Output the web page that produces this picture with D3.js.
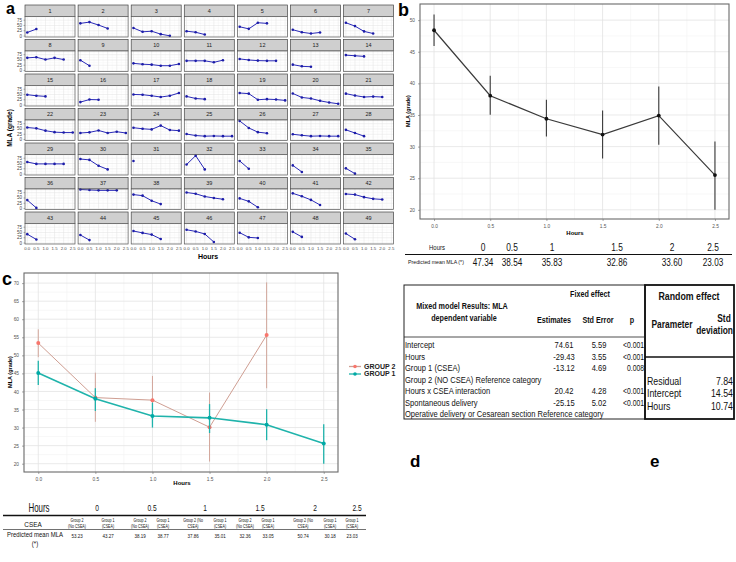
<!DOCTYPE html>
<html>
<head>
<meta charset="utf-8">
<script src="https://cdn.jsdelivr.net/npm/d3@7"></script>
<style>
  body { margin: 0; background: #fff; }
  svg { display: block; }
  text { font-family: "Liberation Sans", Arial, sans-serif; }
</style>
</head>
<body>
<div id="chart"></div>
<script>
// ---------- data ----------
const hours = [0, 0.5, 1, 1.5, 2, 2.5];

// panel a: MLA per subject (1..49), one value per half hour from 0
const subjectMla = [
  [17, 33], [60, 66, 52, 36], [38, 20, 23, 9, 1], [23, 18, 7], [44, 34, 63, 60], [30, 18, 12, 17], [63, 47, 22, 12],
  [60, 63, 52, 60, 52], [49, 23], [34, 30, 28, 23, 23, 31], [46, 46, 46, 39, 49], [55, 50, 47, 46, 46], [28, 20, 18], [73, 70, 67],
  [49, 44, 41], [14, 26, 25], [50, 49, 44, 38, 44, 57], [41, 31, 28], [57, 54, 25, 28, 26, 22], [55, 36, 31, 20, 12, 6], [54, 45, 38, 40, 38],
  [57, 53, 42, 35, 33, 33], [31, 34, 43, 31, 37, 31], [56, 51, 48, 66, 45, 42], [26, 19, 16, 17, 16, 16], [88, 55, 35, 30], [25, 20, 16, 17, 16, 16], [46, 31, 16],
  [57, 48, 48, 48, 48], [71, 67, 39, 22], [62], [45, 87, 22], [62, 25], [41, 10], [27, 2],
  [40, 3], [90, 88, 86, 86, 86], [66, 61, 37, 21], [76, 70, 57, 50, 44], [48, 34, 6], [72, 58, 41, 17], [69, 66, 54, 46, 43],
  [42, 17], [38, 14], [57, 48, 40, 19], [63, 55, 43, 5], [49, 27, 24], [53, 29], [45, 18]
];
const aYTicks = [0, 25, 50, 75];

// panel b: overall mean with error bars
const bMean = [48.4, 38.05, 34.4, 31.9, 34.9, 25.5];
const bLow  = [45.9, 35.05, 31.6, 28.1, 30.3, 20.0];
const bHigh = [50.9, 41.2, 37.4, 35.7, 39.5, 30.8];
const bYTicks = [20, 25, 30, 35, 40, 45, 50];
const bTableHours = ['0', '0.5', '1', '1.5', '2', '2.5'];
const bTablePred  = ['47.34', '38.54', '35.83', '32.86', '33.60', '23.03'];

// panel c: by group
const groupNames = ['GROUP 2', 'GROUP 1'];
const g2Hours = [0, 0.5, 1, 1.5, 2];
const g2Mean = [53.4, 38.3, 37.6, 30.1, 55.6];
const g2Low  = [49.5, 31.6, 31.2, 20.6, 40.9];
const g2High = [57.2, 45.2, 44.3, 39.7, 70.2];
const g1Hours = [0, 0.5, 1, 1.5, 2, 2.5];
const g1Mean = [45.1, 38.0, 33.2, 32.7, 30.8, 25.6];
const g1Low  = [41.8, 34.6, 30.0, 28.5, 26.5, 20.0];
const g1High = [48.5, 40.9, 36.9, 36.5, 35.1, 30.9];
const cYTicks = [20, 25, 30, 35, 40, 45, 50, 55, 60, 65, 70];
const cTableHours = ['0', '0.5', '1', '1.5', '2', '2.5'];
const cGroupLine1 = ['Group 2', 'Group 1', 'Group 2', 'Group 1', 'Group 2 (No', 'Group 1', 'Group 2', 'Group 1', 'Group 2 (No', 'Group 1', 'Group 1'];
const cGroupLine2 = ['(No CSEA)', '(CSEA)', '(No CSEA)', '(CSEA)', 'CSEA)', '(CSEA)', '(No CSEA)', '(CSEA)', 'CSEA)', '(CSEA)', '(CSEA)'];
const cTablePred = ['53.23', '43.27', '38.19', '38.77', '37.86', '35.01', '32.36', '33.05', '50.74', '30.18', '23.03'];

// panels d, e: model tables
const dTerms = ['Intercept', 'Hours', 'Group 1 (CSEA)', 'Group 2 (NO CSEA)  Reference category', 'Hours x CSEA interaction', 'Spontaneous delivery', 'Operative delivery or Cesarean section Reference category'];
const dEstimates = ['74.61', '-29.43', '-13.12', '', '20.42', '-25.15', ''];
const dStdErr = ['5.59', '3.55', '4.69', '', '4.28', '5.02', ''];
const dP = ['<0.001', '<0.001', '0.008', '', '<0.001', '<0.001', ''];
const eParams = ['Residual', 'Intercept', 'Hours'];
const eStd = ['7.84', '14.54', '10.74'];

// ---------- drawing ----------
const W = 736, H = 562;
const svg = d3.select('#chart').append('svg').attr('width', W).attr('height', H);
const hourDomain = [-0.125, 2.625];
const gridMajor = '#e3e3e3', gridMinor = '#f2f2f2';

function panelLetter(t, x, y, size) {
  svg.append('text').text(t).attr('x', x).attr('y', y)
     .style('font-weight', 'bold').style('font-size', size + 'px');
}

// narrow "table" text: squeezed horizontally like the Calibri in the figure
function tb(t, x, y, size, anchor, bold, sx) {
  return svg.append('text').text(t)
     .attr('transform', `translate(${x},${y}) scale(${sx || 0.85},1)`)
     .attr('text-anchor', anchor || 'start')
     .style('font-size', size + 'px').style('font-weight', bold ? 'bold' : 'normal')
     .attr('fill', '#111');
}

// ----- panel a -----
panelLetter('a', 6, 14, 16);
const aLeft = 25, aTop = 5, aColStep = 53.1, aRowStep = 34.5, aW = 50, aStripH = 11.5, aPanelH = 20.5;
const aYDomain = [-4.5, 92.5];

subjectMla.forEach((vals, i) => {
  const col = i % 7, row = Math.floor(i / 7);
  const g = svg.append('g').attr('transform', `translate(${aLeft + col * aColStep},${aTop + row * aRowStep})`);
  const x = d3.scaleLinear().domain(hourDomain).range([0, aW]);
  const y = d3.scaleLinear().domain(aYDomain).range([aStripH + aPanelH, aStripH]);

  g.append('rect').attr('width', aW).attr('height', aStripH)
   .attr('fill', '#cfcfcf').attr('stroke', '#444').attr('stroke-width', 0.7);
  g.append('text').text(i + 1).attr('x', aW / 2).attr('y', aStripH / 2 + 2)
   .attr('text-anchor', 'middle').style('font-size', '5.5px').attr('fill', '#222');

  g.append('rect').attr('y', aStripH).attr('width', aW).attr('height', aPanelH).attr('fill', '#fff');
  const minorX = d3.range(0.25, 2.6, 0.5), minorY = [12.5, 37.5, 62.5, 87.5];
  g.selectAll('.mx').data(minorX).join('line')
   .attr('x1', d => x(d)).attr('x2', d => x(d)).attr('y1', aStripH).attr('y2', aStripH + aPanelH)
   .attr('stroke', gridMinor).attr('stroke-width', 0.4);
  g.selectAll('.my').data(minorY).join('line')
   .attr('x1', 0).attr('x2', aW).attr('y1', d => y(d)).attr('y2', d => y(d))
   .attr('stroke', gridMinor).attr('stroke-width', 0.4);
  g.selectAll('.gx').data(hours).join('line')
   .attr('x1', d => x(d)).attr('x2', d => x(d)).attr('y1', aStripH).attr('y2', aStripH + aPanelH)
   .attr('stroke', gridMajor).attr('stroke-width', 0.5);
  g.selectAll('.gy').data(aYTicks).join('line')
   .attr('x1', 0).attr('x2', aW).attr('y1', d => y(d)).attr('y2', d => y(d))
   .attr('stroke', gridMajor).attr('stroke-width', 0.5);

  const pts = vals.map((v, j) => [hours[j], v]);
  g.append('path').datum(pts)
   .attr('d', d3.line().x(d => x(d[0])).y(d => y(d[1])))
   .attr('fill', 'none').attr('stroke', '#2a2ab8').attr('stroke-width', 1);
  g.selectAll('.pt').data(pts).join('circle')
   .attr('cx', d => x(d[0])).attr('cy', d => y(d[1])).attr('r', 1.3).attr('fill', '#1c1ca8');

  g.append('rect').attr('y', aStripH).attr('width', aW).attr('height', aPanelH)
   .attr('fill', 'none').attr('stroke', '#555').attr('stroke-width', 0.7);

  if (col === 0) {
    g.selectAll('.yl').data(aYTicks).join('text').text(d => d)
     .attr('x', -3).attr('y', d => y(d) + 1.5).attr('text-anchor', 'end')
     .style('font-size', '4.5px').attr('fill', '#444');
    g.selectAll('.yt').data(aYTicks).join('line')
     .attr('x1', -1.5).attr('x2', 0).attr('y1', d => y(d)).attr('y2', d => y(d))
     .attr('stroke', '#444').attr('stroke-width', 0.4);
  }
  if (row === 6) {
    g.selectAll('.xl').data(hours).join('text').text(d => d3.format('.1f')(d))
     .attr('x', d => x(d)).attr('y', aStripH + aPanelH + 6).attr('text-anchor', 'middle')
     .style('font-size', '4.3px').attr('fill', '#444');
  }
});
svg.append('text').text('MLA (grade)')
   .attr('transform', 'translate(12,128) rotate(-90)').attr('text-anchor', 'middle')
   .style('font-size', '6.5px').style('font-weight', 'bold');
svg.append('text').text('Hours').attr('x', 208).attr('y', 259).attr('text-anchor', 'middle')
   .style('font-size', '7px').style('font-weight', 'bold');

// ----- helper for b and c plot frames -----
function framePlot(left, top, right, bottom, yDomain, yTicks) {
  const x = d3.scaleLinear().domain(hourDomain).range([left, right]);
  const y = d3.scaleLinear().domain(yDomain).range([bottom, top]);
  const g = svg.append('g');
  const minorX = d3.range(0.25, 2.6, 0.5);
  const minorY = yTicks.slice(0, -1).map(t => t + 2.5);
  g.selectAll('.mx').data(minorX).join('line')
   .attr('x1', d => x(d)).attr('x2', d => x(d)).attr('y1', top).attr('y2', bottom)
   .attr('stroke', gridMinor).attr('stroke-width', 0.6);
  g.selectAll('.my').data(minorY).join('line')
   .attr('x1', left).attr('x2', right).attr('y1', d => y(d)).attr('y2', d => y(d))
   .attr('stroke', gridMinor).attr('stroke-width', 0.6);
  g.selectAll('.gx').data(hours).join('line')
   .attr('x1', d => x(d)).attr('x2', d => x(d)).attr('y1', top).attr('y2', bottom)
   .attr('stroke', gridMajor).attr('stroke-width', 0.8);
  g.selectAll('.gy').data(yTicks).join('line')
   .attr('x1', left).attr('x2', right).attr('y1', d => y(d)).attr('y2', d => y(d))
   .attr('stroke', gridMajor).attr('stroke-width', 0.8);

  const yAxis = svg.append('g').attr('transform', `translate(${left},0)`)
     .call(d3.axisLeft(y).tickValues(yTicks).tickSize(2).tickFormat(d3.format('d')));
  const xAxis = svg.append('g').attr('transform', `translate(0,${bottom})`)
     .call(d3.axisBottom(x).tickValues(hours).tickSize(2).tickFormat(d3.format('.1f')));
  [yAxis, xAxis].forEach(a => {
    a.select('.domain').remove();
    a.selectAll('line').attr('stroke', '#555').attr('stroke-width', 0.5);
    a.selectAll('text').style('font-size', '4.8px').attr('fill', '#555')
     .style('font-family', '"Liberation Sans", Arial, sans-serif');
  });
  xAxis.selectAll('text').attr('dy', '0.9em');
  svg.append('rect').attr('x', left).attr('y', top).attr('width', right - left).attr('height', bottom - top)
     .attr('fill', 'none').attr('stroke', '#6a6a6a').attr('stroke-width', 1.1);
  return { x, y };
}

// ----- panel b -----
const b = framePlot(420, 4, 729, 219, [18.55, 52.55], bYTicks);
panelLetter('b', 398, 16, 18);
const bPts = hours.map((h, i) => ({ h, m: bMean[i], lo: bLow[i], hi: bHigh[i] }));
svg.append('g').selectAll('line').data(bPts).join('line')
   .attr('x1', d => b.x(d.h)).attr('x2', d => b.x(d.h)).attr('y1', d => b.y(d.lo)).attr('y2', d => b.y(d.hi))
   .attr('stroke', '#3a3a3a').attr('stroke-width', 1.1);
svg.append('path').datum(bPts)
   .attr('d', d3.line().x(d => b.x(d.h)).y(d => b.y(d.m)))
   .attr('fill', 'none').attr('stroke', '#3a3a3a').attr('stroke-width', 1.2);
svg.append('g').selectAll('circle').data(bPts).join('circle')
   .attr('cx', d => b.x(d.h)).attr('cy', d => b.y(d.m)).attr('r', 1.9).attr('fill', '#111');
svg.append('text').text('MLA (grade)')
   .attr('transform', 'translate(410,111) rotate(-90)').attr('text-anchor', 'middle')
   .style('font-size', '5.5px').style('font-weight', 'bold');
svg.append('text').text('Hours').attr('x', 575).attr('y', 235).attr('text-anchor', 'middle')
   .style('font-size', '6px').style('font-weight', 'bold');

// table under b
const bColX = [483, 512, 552, 617, 672, 713];
tb('Hours', 437, 250, 7, 'middle', false, 0.85);
bTableHours.forEach((t, i) => tb(t, bColX[i], 251, 10.5, 'middle', false, 0.8));
svg.append('line').attr('x1', 405).attr('x2', 732).attr('y1', 254.5).attr('y2', 254.5)
   .attr('stroke', '#111').attr('stroke-width', 1.2);
tb('Predicted mean MLA (*)', 408, 264, 6.2, 'start', false, 0.85);
bTablePred.forEach((t, i) => tb(t, bColX[i], 265.5, 10.5, 'middle', false, 0.78));

// ----- panel c -----
const c = framePlot(24, 273, 338, 472, [17.7, 72.8], cYTicks);
panelLetter('c', 2, 285, 18);
const cSeries = [
  { name: groupNames[0], color: '#F8766D', lineColor: '#cf9e92', lw: 1, bw: 0.9,
    pts: g2Hours.map((h, i) => ({ h, m: g2Mean[i], lo: g2Low[i], hi: g2High[i] })) },
  { name: groupNames[1], color: '#00A9A5', lineColor: '#1fb3ab', lw: 1.6, bw: 1.3,
    pts: g1Hours.map((h, i) => ({ h, m: g1Mean[i], lo: g1Low[i], hi: g1High[i] })) }
];
cSeries.forEach(s => {
  svg.append('g').selectAll('line').data(s.pts).join('line')
     .attr('x1', d => c.x(d.h)).attr('x2', d => c.x(d.h)).attr('y1', d => c.y(d.lo)).attr('y2', d => c.y(d.hi))
     .attr('stroke', s.lineColor).attr('stroke-width', s.bw);
  svg.append('path').datum(s.pts)
     .attr('d', d3.line().x(d => c.x(d.h)).y(d => c.y(d.m)))
     .attr('fill', 'none').attr('stroke', s.lineColor).attr('stroke-width', s.lw);
  svg.append('g').selectAll('circle').data(s.pts).join('circle')
     .attr('cx', d => c.x(d.h)).attr('cy', d => c.y(d.m)).attr('r', 2).attr('fill', s.color);
});
cSeries.forEach((s, i) => {
  const ly = 366.5 + i * 7.5;
  svg.append('line').attr('x1', 349).attr('x2', 361).attr('y1', ly).attr('y2', ly)
     .attr('stroke', s.lineColor).attr('stroke-width', 1.3);
  svg.append('circle').attr('cx', 355).attr('cy', ly).attr('r', 1.8).attr('fill', s.color);
  svg.append('text').text(s.name).attr('x', 364).attr('y', ly + 2.4)
     .style('font-size', '7px').style('font-weight', 'bold').attr('fill', '#222');
});
svg.append('text').text('MLA (grade)')
   .attr('transform', 'translate(12,372) rotate(-90)').attr('text-anchor', 'middle')
   .style('font-size', '5.5px').style('font-weight', 'bold');
svg.append('text').text('Hours').attr('x', 182).attr('y', 485).attr('text-anchor', 'middle')
   .style('font-size', '6px').style('font-weight', 'bold');

// table under c
const cHourX = [97, 152, 205, 260, 315, 357];
const cColX = [77, 108, 140, 163, 193, 220, 245, 268, 303, 330, 352];
tb('Hours', 39, 512, 12, 'middle', false, 0.66);
cTableHours.forEach((t, i) => tb(t, cHourX[i], 511, 9.5, 'middle', false, 0.7));
svg.append('line').attr('x1', 3).attr('x2', 366).attr('y1', 515.5).attr('y2', 515.5)
   .attr('stroke', '#111').attr('stroke-width', 1.6);
tb('CSEA', 33, 527, 8, 'middle', false, 0.8);
cGroupLine1.forEach((t, i) => tb(t, cColX[i], 522, 4.5, 'middle', false, 0.8));
cGroupLine2.forEach((t, i) => tb(t, cColX[i], 527.5, 4.5, 'middle', false, 0.8));
svg.append('line').attr('x1', 3).attr('x2', 366).attr('y1', 529.5).attr('y2', 529.5)
   .attr('stroke', '#111').attr('stroke-width', 0.6);
tb('Predicted mean MLA', 35, 537, 7.5, 'middle', false, 0.8);
tb('(*)', 35, 546, 7.5, 'middle', false, 0.8);
cTablePred.forEach((t, i) => tb(t, cColX[i], 538, 6, 'middle', false, 0.75));

// ----- panels d and e: tables -----
const tL = 404, tM = 645, tR = 734, tTop = 285, tBot = 419;
const dRowY = [345, 356.5, 368, 379.5, 391, 402.5, 414];
svg.append('rect').attr('x', tL).attr('y', tTop).attr('width', tM - tL).attr('height', tBot - tTop)
   .attr('fill', 'none').attr('stroke', '#222').attr('stroke-width', 1);
svg.append('rect').attr('x', tM).attr('y', tTop).attr('width', tR - tM).attr('height', tBot - tTop)
   .attr('fill', 'none').attr('stroke', '#111').attr('stroke-width', 1.8);
svg.append('line').attr('x1', tL).attr('x2', tM).attr('y1', 337).attr('y2', 337)
   .attr('stroke', '#222').attr('stroke-width', 0.8);
svg.append('line').attr('x1', tM).attr('x2', tR).attr('y1', 357).attr('y2', 357)
   .attr('stroke', '#111').attr('stroke-width', 1.5);

tb('Fixed effect', 590, 297, 8.8, 'middle', true, 0.82);
tb('Mixed model Results: MLA', 462, 309, 8.8, 'middle', true, 0.82);
tb('dependent variable', 464, 321, 8.8, 'middle', true, 0.82);
tb('Estimates', 554, 323, 8.8, 'middle', true, 0.82);
tb('Std Error', 598, 323, 8.8, 'middle', true, 0.82);
tb('p', 632, 323, 8.8, 'middle', true, 0.82);
dTerms.forEach((t, i) => {
  tb(t, 405, dRowY[i] + 3, 8.8, 'start', false, 0.86);
  tb(dEstimates[i], 564, dRowY[i] + 3, 8.8, 'middle', false, 0.86);
  tb(dStdErr[i], 599, dRowY[i] + 3, 8.8, 'middle', false, 0.86);
  tb(dP[i], 644, dRowY[i] + 3, 8.5, 'end', false, 0.8);
});
tb('Random effect', 689, 300, 11, 'middle', true, 0.8);
tb('Parameter', 672, 328, 10.5, 'middle', true, 0.8);
tb('Std', 724, 322, 10.5, 'middle', true, 0.8);
tb('deviation', 733, 334, 10.5, 'end', true, 0.8);
const eRowY = [381, 393.5, 406];
eParams.forEach((p, i) => {
  tb(p, 647, eRowY[i] + 3.5, 11, 'start', false, 0.8);
  tb(eStd[i], 733, eRowY[i] + 3.5, 11, 'end', false, 0.8);
});
panelLetter('d', 410, 467, 17);
panelLetter('e', 650, 467, 17);
</script>
</body>
</html>
